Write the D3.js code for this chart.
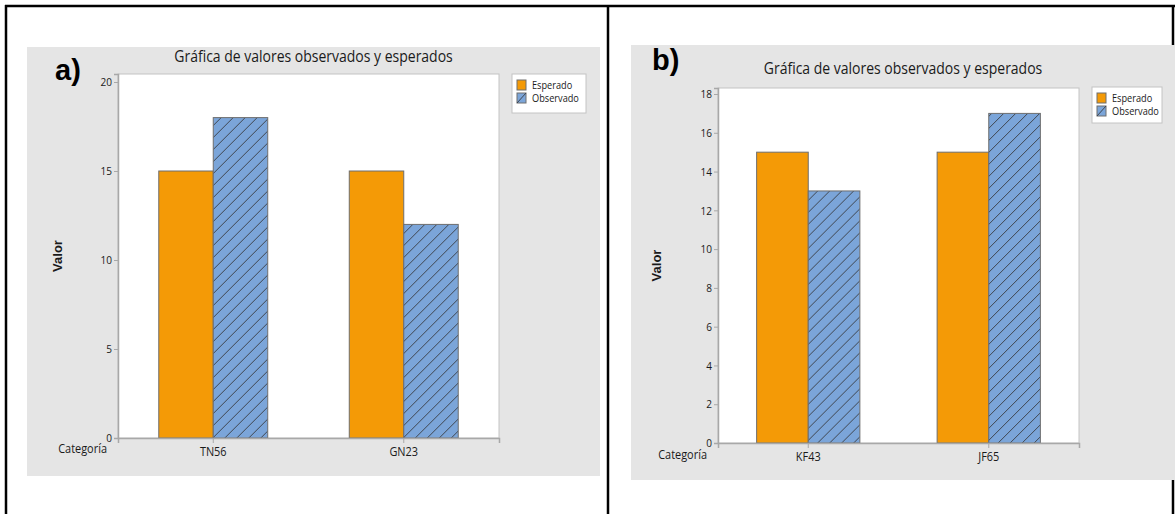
<!DOCTYPE html>
<html>
<head>
<meta charset="utf-8">
<script src="https://cdn.jsdelivr.net/npm/d3@7"></script>
<style>
  html, body { margin: 0; padding: 0; background: #fff; }
  svg { display: block; }
  .ui { font-family: "Open Sans", "Noto Sans", sans-serif; }
</style>
</head>
<body>
<svg id="fig" width="1175" height="514"></svg>
<script>
// ---- data ----
const chartTitle = "Gráfica de valores observados y esperados";
const seriesNames = ["Esperado", "Observado"];
const yAxisLabel = "Valor";
const xAxisLabel = "Categoría";

const categoriesA = ["TN56", "GN23"];
const esperadoA = [15, 15];
const observadoA = [18, 12];
const ticksA = [0, 5, 10, 15, 20];

const categoriesB = ["KF43", "JF65"];
const esperadoB = [15, 15];
const observadoB = [13, 17];
const ticksB = [0, 2, 4, 6, 8, 10, 12, 14, 16, 18];

// ---- styling ----
const ORANGE = "#f49a06";
const BLUE = "#7ba5d9";
const HATCH = "#3f4650";
const BAR_EDGE = "#6e6e6e";
const PANEL_BG = "#e5e5e5";
const FRAME_GRAY = "#c4c4c4";
const AXIS_GRAY = "#a8a8a8";
const TEXT = "#1a1a1a";
const SQUEEZE = 0.875;   // horizontal compression of the UI lettering

const svg = d3.select("#fig");

// hatch pattern for the observed series
const defs = svg.append("defs");
const pat = defs.append("pattern")
  .attr("id", "hatch")
  .attr("patternUnits", "userSpaceOnUse")
  .attr("width", 12).attr("height", 12);
pat.append("rect").attr("width", 12).attr("height", 12).attr("fill", BLUE);
pat.append("path")
  .attr("d", "M-3,3 L3,-3 M0,12 L12,0 M9,15 L15,9")
  .attr("stroke", HATCH).attr("stroke-width", 1);

// table-like frame around the two figures
const frame = svg.append("g").attr("stroke", "#000").attr("stroke-width", 2.5);
frame.append("line").attr("x1", 5).attr("x2", 1175).attr("y1", 6).attr("y2", 6);
frame.append("line").attr("x1", 6).attr("x2", 6).attr("y1", 5).attr("y2", 514);
frame.append("line").attr("x1", 608).attr("x2", 608).attr("y1", 5).attr("y2", 514);
frame.append("line").attr("x1", 1173).attr("x2", 1173).attr("y1", 5).attr("y2", 514);

// text placed at (x,y), narrowed horizontally
function uiText(parent, x, y, size, anchor, str) {
  return parent.append("text")
    .attr("class", "ui")
    .attr("transform", `translate(${x},${y}) scale(${SQUEEZE},1)`)
    .attr("text-anchor", anchor)
    .attr("font-size", size).attr("fill", TEXT)
    .text(str);
}

function drawPanel(cfg) {
  const g = svg.append("g");
  const L = cfg.layout;

  g.append("rect")
    .attr("x", L.bg[0]).attr("y", L.bg[1])
    .attr("width", L.bg[2]).attr("height", L.bg[3])
    .attr("fill", PANEL_BG);

  const x = d3.scaleBand()
    .domain(cfg.categories)
    .range([L.x0, L.x1])
    .paddingInner(0.428)
    .paddingOuter(0.214);
  const xs = d3.scaleBand().domain(seriesNames).range([0, x.bandwidth()]);
  const y = d3.scaleLinear().domain([0, L.yTop]).range([L.y1, L.y0]);

  // plot area
  g.append("rect")
    .attr("x", L.x0).attr("y", L.y0)
    .attr("width", L.x1 - L.x0).attr("height", L.y1 - L.y0)
    .attr("fill", "#fff").attr("stroke", FRAME_GRAY).attr("stroke-width", 1);

  // bars
  const rows = cfg.categories.map((c, i) => ({
    cat: c,
    vals: [
      { s: seriesNames[0], v: cfg.esperado[i] },
      { s: seriesNames[1], v: cfg.observado[i] }
    ]
  }));
  const grp = g.append("g").selectAll("g").data(rows).join("g")
    .attr("transform", d => `translate(${x(d.cat)},0)`);
  grp.selectAll("rect").data(d => d.vals).join("rect")
    .attr("x", d => xs(d.s))
    .attr("y", d => y(d.v))
    .attr("width", xs.bandwidth())
    .attr("height", d => y(0) - y(d.v))
    .attr("fill", d => d.s === seriesNames[0] ? ORANGE : "url(#hatch)")
    .attr("stroke", BAR_EDGE).attr("stroke-width", 1);

  // y axis
  const yAxis = g.append("g")
    .attr("transform", `translate(${L.x0},0)`)
    .call(d3.axisLeft(y).tickValues(cfg.ticks).tickSize(4).tickPadding(3));
  yAxis.select(".domain").attr("stroke", AXIS_GRAY).attr("stroke-width", 1.5);
  yAxis.selectAll(".tick line").attr("stroke", AXIS_GRAY);
  yAxis.selectAll(".tick text")
    .attr("class", "ui")
    .attr("transform", `scale(${SQUEEZE},1)`)
    .attr("font-size", 11.5).attr("fill", TEXT);

  // x axis
  const xAxis = g.append("g")
    .attr("transform", `translate(0,${L.y1})`)
    .call(d3.axisBottom(x).tickSize(5).tickPadding(4));
  xAxis.select(".domain").attr("stroke", AXIS_GRAY).attr("stroke-width", 1.5);
  xAxis.selectAll(".tick line").attr("stroke", AXIS_GRAY);
  xAxis.selectAll(".tick text")
    .attr("class", "ui")
    .attr("transform", `scale(${SQUEEZE},1)`)
    .attr("font-size", 12.5).attr("fill", TEXT);

  uiText(g, L.x0 - 11, L.catBase, 12.5, "end", xAxisLabel);

  g.append("text")
    .attr("transform", `translate(${L.valX},${(L.y0 + L.y1) / 2}) rotate(-90)`)
    .attr("text-anchor", "middle")
    .attr("font-family", "Liberation Sans, Arial, sans-serif")
    .attr("font-weight", "bold").attr("font-size", 13).attr("fill", TEXT)
    .text(yAxisLabel);

  // title
  uiText(g, L.bg[0] + L.bg[2] / 2, L.titleBase, 16, "middle", chartTitle);

  // panel tag
  g.append("text")
    .attr("x", L.tag[0]).attr("y", L.tag[1])
    .attr("font-family", "Liberation Sans, Arial, sans-serif")
    .attr("font-weight", "bold").attr("font-size", 29).attr("fill", "#000")
    .text(cfg.tag);

  // legend
  const lg = g.append("g").attr("transform", `translate(${L.legend[0]},${L.legend[1]})`);
  lg.append("rect")
    .attr("width", L.legend[2]).attr("height", L.legend[3])
    .attr("fill", "#fff").attr("stroke", FRAME_GRAY);
  const items = lg.selectAll("g").data(seriesNames).join("g")
    .attr("transform", (d, i) => `translate(5,${6 + i * 13})`);
  items.append("rect")
    .attr("width", 9).attr("height", 10)
    .attr("fill", (d, i) => i === 0 ? ORANGE : BLUE)
    .attr("stroke", BAR_EDGE);
  items.filter((d, i) => i === 1).append("line")
    .attr("x1", 0).attr("y1", 10).attr("x2", 9).attr("y2", 0)
    .attr("stroke", HATCH);
  items.each(function (d) {
    uiText(d3.select(this), 15, 9, 10.5, "start", d);
  });
}

drawPanel({
  tag: "a)",
  categories: categoriesA, esperado: esperadoA, observado: observadoA, ticks: ticksA,
  layout: {
    bg: [27, 47, 573, 429],
    x0: 118, x1: 499, y0: 74, y1: 438, yTop: 20.45,
    titleBase: 62, catBase: 453, valX: 62,
    tag: [55, 80],
    legend: [512, 74, 74, 39]
  }
});

drawPanel({
  tag: "b)",
  categories: categoriesB, esperado: esperadoB, observado: observadoB, ticks: ticksB,
  layout: {
    bg: [631, 45, 544, 435],
    x0: 718, x1: 1079, y0: 88, y1: 443, yTop: 18.31,
    titleBase: 74, catBase: 459, valX: 661,
    tag: [652, 70],
    legend: [1092, 87, 70, 36]
  }
});
</script>
</body>
</html>
